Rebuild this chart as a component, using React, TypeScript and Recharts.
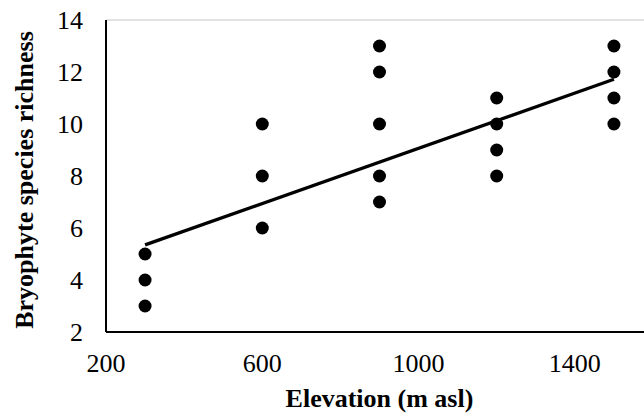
import { ScatterChart, Scatter, XAxis, YAxis, ReferenceLine, Label } from 'recharts'

const elevation300 = [3, 4, 5]
const elevation600 = [6, 8, 10]
const elevation900 = [7, 8, 10, 12, 13]
const elevation1200 = [8, 9, 10, 11]
const elevation1500 = [10, 11, 12, 13]

const groups: [number, number[]][] = [
  [300, elevation300],
  [600, elevation600],
  [900, elevation900],
  [1200, elevation1200],
  [1500, elevation1500],
]

const xTicks = [200, 600, 1000, 1400]
const yTicks = [2, 4, 6, 8, 10, 12, 14]

// linear trend
const trendX = [300, 1500]
const trendY = [5.35, 11.72]

const points = groups.flatMap(([x, ys]) => ys.map((y) => ({ x, y })))

const font = "'Liberation Serif', 'Times New Roman', serif"

const Dot = (p: any) => <circle cx={p.cx} cy={p.cy} r={6.5} fill="#000" />

const YTitle = (props: any) => {
  const vb = props.viewBox
  const cy = vb.y + vb.height / 2 + 4
  return (
    <text
      x={33}
      y={cy}
      transform={`rotate(-90, 33, ${cy})`}
      textAnchor="middle"
      fontFamily={font}
      fontWeight="bold"
      fontSize={26}
      fill="#000"
    >
      Bryophyte species richness
    </text>
  )
}

const XTitle = (props: any) => {
  const vb = props.viewBox
  return (
    <text
      x={vb.x + vb.width / 2}
      y={407}
      textAnchor="middle"
      fontFamily={font}
      fontWeight="bold"
      fontSize={26}
      fill="#000"
    >
      Elevation (m asl)
    </text>
  )
}

export default function App() {
  return (
    <div style={{ width: 644, height: 414, overflow: 'hidden', background: '#fff' }}>
      <style>{'html,body{margin:0;padding:0;overflow:hidden}'}</style>
      <ScatterChart width={660} height={414} margin={{ top: 20, right: 7, bottom: 0, left: 0 }}>
        <XAxis
          type="number"
          dataKey="x"
          domain={[200, 1600]}
          ticks={xTicks}
          allowDataOverflow
          tickLine={false}
          tickSize={0}
          tickMargin={22}
          height={82}
          axisLine={{ stroke: '#000', strokeWidth: 2 }}
          tick={{ fill: '#000', fontSize: 26, fontFamily: font }}
        >
          <Label content={XTitle} />
        </XAxis>
        <YAxis
          type="number"
          dataKey="y"
          domain={[2, 14]}
          ticks={yTicks}
          allowDataOverflow
          tickLine={false}
          tickSize={0}
          tickMargin={23}
          width={106}
          axisLine={{ stroke: '#000', strokeWidth: 2 }}
          tick={{ fill: '#000', fontSize: 26, fontFamily: font }}
        >
          <Label content={YTitle} />
        </YAxis>
        <ReferenceLine y={14} stroke="#d9d9d9" strokeWidth={1.5} />
        <ReferenceLine
          segment={[
            { x: trendX[0], y: trendY[0] },
            { x: trendX[1], y: trendY[1] },
          ]}
          stroke="#000"
          strokeWidth={3.3}
        />
        <Scatter data={points} fill="#000" shape={Dot} isAnimationActive={false} />
      </ScatterChart>
    </div>
  )
}
